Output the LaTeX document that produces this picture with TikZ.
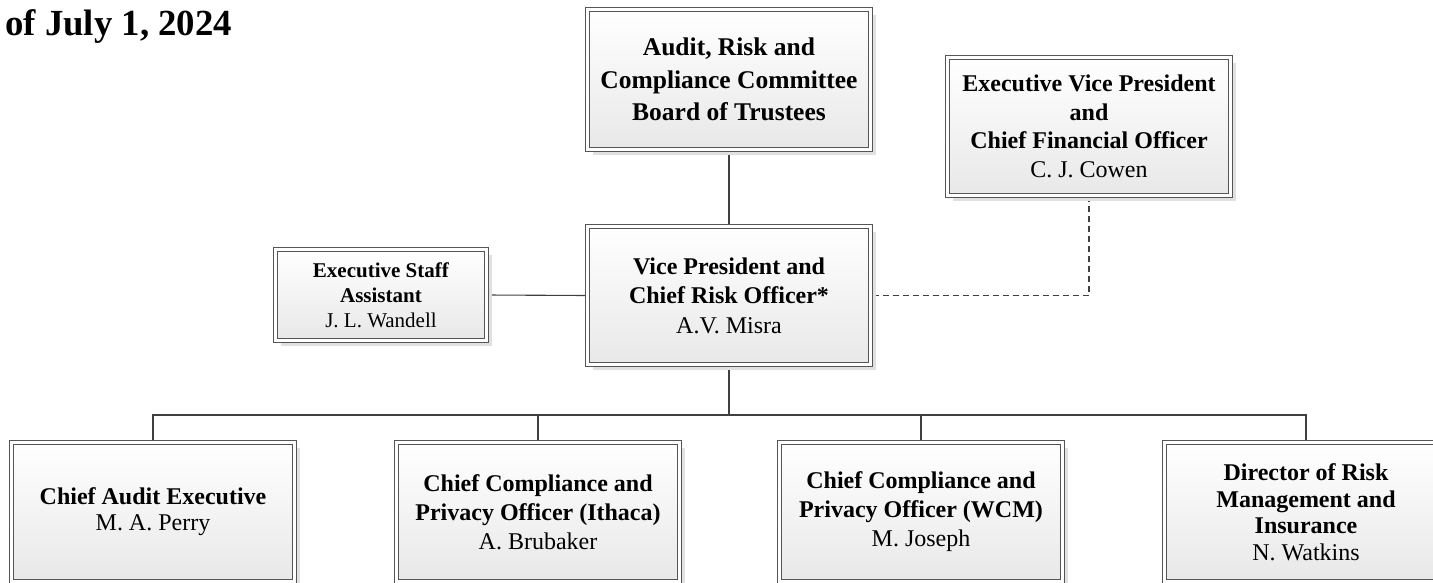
\documentclass[tikz,border=0pt]{standalone}
\usepackage{fontspec}
\setmainfont{Liberation Serif}
\usetikzlibrary{shadows,backgrounds}
\definecolor{boxline}{HTML}{555555}
\definecolor{connline}{HTML}{404040}
\tikzset{
  orgbox/.style={draw=boxline, line width=1pt, double=white, double distance=3pt,
    top color=white, bottom color=black!9, align=center, inner sep=2pt,
    drop shadow={shadow xshift=5pt, shadow yshift=-5pt, fill=black!12, opacity=1},
    minimum width=283pt},
  conn/.style={draw=connline, line width=1.1pt},
  dashconn/.style={conn, dash pattern=on 6pt off 4pt},
}
\begin{document}
\begin{tikzpicture}[x=1pt,y=1pt]
\useasboundingbox (0,0) rectangle (1433,-582);
\clip (0,0) rectangle (1433,-582);

\node[anchor=base west, inner sep=0pt, font=\fontsize{36.8}{40}\selectfont\bfseries] (title) at (5,-35) {of July 1, 2024};

\node[orgbox, minimum height=140pt, font=\fontsize{25.5}{32.5}\selectfont\bfseries] (arc) at (729,-79.5)
  {Audit, Risk and\\Compliance Committee\\Board of Trustees};
\node[orgbox, minimum height=138pt, font=\fontsize{24}{28.5}\selectfont] (evp) at (1089,-126.5)
  {\textbf{Executive Vice President}\\\textbf{and}\\\textbf{Chief Financial Officer}\\C. J. Cowen};
\node[orgbox, minimum height=138pt, font=\fontsize{24}{29.5}\selectfont] (vp) at (729,-295.5)
  {\textbf{Vice President and}\\\textbf{Chief Risk Officer*}\\A.V. Misra};
\node[orgbox, minimum width=211pt, minimum height=91pt, font=\fontsize{21}{25}\selectfont] (esa) at (381,-295)
  {\textbf{Executive Staff}\\\textbf{Assistant}\\J. L. Wandell};

\node[orgbox, minimum height=139pt, font=\fontsize{24}{26}\selectfont] (cae) at (153,-512)
  {\textbf{Chief Audit Executive}\\M. A. Perry};
\node[orgbox, minimum height=139pt, font=\fontsize{24}{29}\selectfont] (ith) at (538,-512)
  {\textbf{Chief Compliance and}\\\textbf{Privacy Officer (Ithaca)}\\A. Brubaker};
\node[orgbox, minimum height=139pt, font=\fontsize{24}{29}\selectfont] (wcm) at (921,-512)
  {\textbf{Chief Compliance and}\\\textbf{Privacy Officer (WCM)}\\M. Joseph};
\node[orgbox, minimum height=139pt, font=\fontsize{24}{26.5}\selectfont] (drm) at (1306,-512)
  {\textbf{Director of Risk}\\\textbf{Management and}\\\textbf{Insurance}\\N. Watkins};

\coordinate (bus) at (729,-415);

\begin{scope}[on background layer]
\draw[conn] (arc.south) -- (vp.north);
\draw[conn] (esa.east) -- (vp.west);
\draw[dashconn] (evp.south) |- (vp.east);
\draw[conn] (vp.south) -- (bus);
\draw[conn] (cae.north) |- (bus);
\draw[conn] (ith.north) |- (bus);
\draw[conn] (wcm.north) |- (bus);
\draw[conn] (drm.north) |- (bus);
\end{scope}
\end{tikzpicture}
\end{document}
